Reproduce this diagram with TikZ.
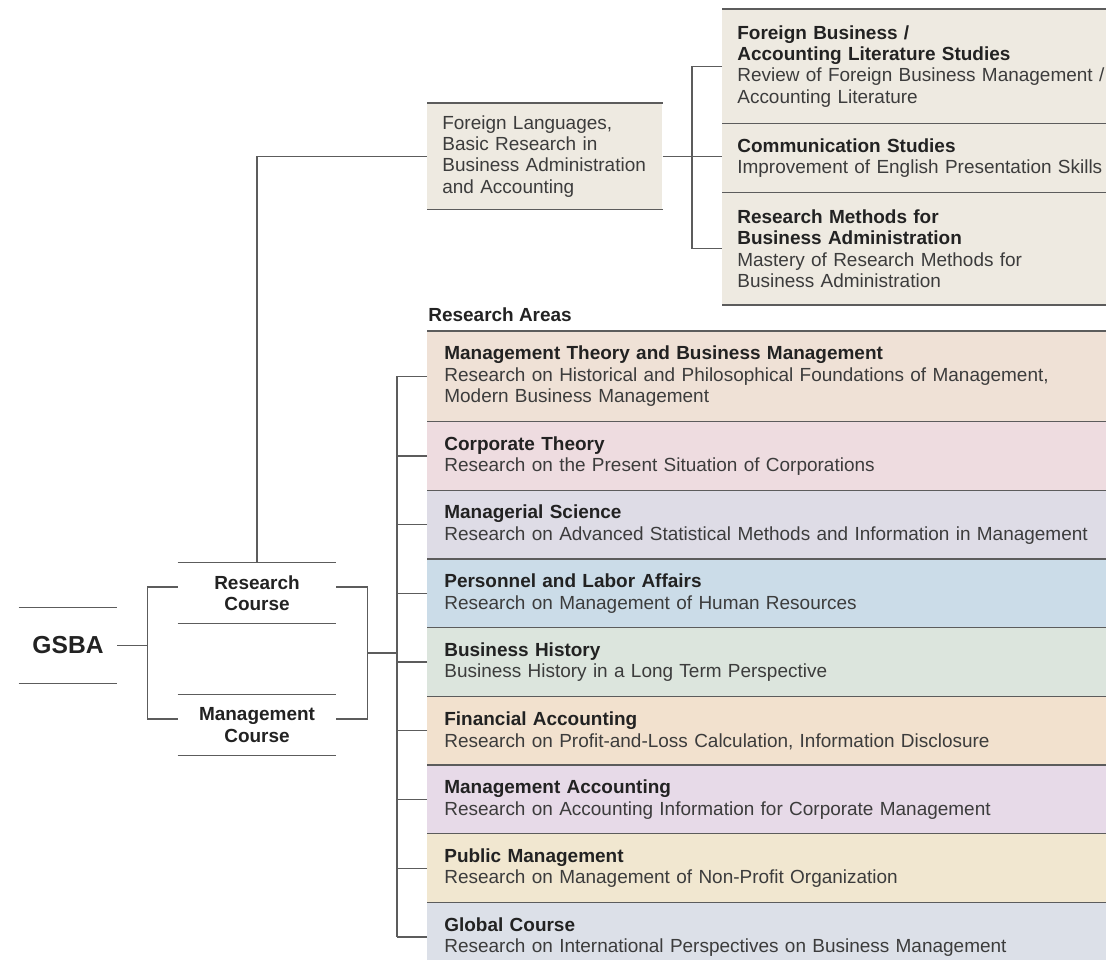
\documentclass[tikz,border=0pt]{standalone}
\usepackage{fontspec}
\setmainfont{Liberation Sans}
\usetikzlibrary{calc,positioning}

\definecolor{lineGray}{HTML}{5C5C5C}
\definecolor{titleInk}{HTML}{222222}
\definecolor{bodyInk}{HTML}{3C3C3C}
\definecolor{baseBeige}{HTML}{EEEAE1}
\definecolor{areaTheory}{HTML}{EFE1D6}
\definecolor{areaCorp}{HTML}{EEDCE0}
\definecolor{areaSci}{HTML}{DEDCE6}
\definecolor{areaLabor}{HTML}{CBDCE8}
\definecolor{areaHist}{HTML}{DCE5DD}
\definecolor{areaFin}{HTML}{F2E1CE}
\definecolor{areaMgmtAcc}{HTML}{E7DAE8}
\definecolor{areaPublic}{HTML}{F1E7D0}
\definecolor{areaGlobal}{HTML}{DCE0E8}

\newcommand{\ttl}[1]{{\bfseries\color{titleInk}#1}}

\tikzset{
	link/.style={draw=lineGray, line width=0.75pt},
	rules/.style={append after command={
		(\tikzlastnode.north west) edge[link] (\tikzlastnode.north east)
		(\tikzlastnode.south west) edge[link] (\tikzlastnode.south east)}},
	course/.style={rules, inner sep=0pt, align=center, font=\fontsize{10.8}{12.2}\selectfont\bfseries,
		text=titleInk, minimum width=3.16cm, minimum height=1.2cm},
	areabox/.style={rules, fill=#1, anchor=north west, align=left, text=bodyInk,
		inner ysep=0pt, inner xsep=0.34cm, text width=14cm, minimum height=1.36cm},
	subbox/.style={rules, fill=baseBeige, anchor=north west, align=left, text=bodyInk,
		inner ysep=0pt, inner xsep=0.3cm, text width=8cm},
}

\begin{document}
\begin{tikzpicture}[x=0.02cm, y=-0.02cm, font=\fontsize{10.8}{12.2}\selectfont]
		%%%%% START %%%%%
		\useasboundingbox (0,0) rectangle (1106,960);
		\clip (0,0) rectangle (1106,960);
		
		% left side
		\node[rules, inner sep=0pt, minimum width=1.96cm, minimum height=1.5cm, text=titleInk,
			font=\fontsize{14}{16}\selectfont\bfseries] (gsba) at (68,645.5) {GSBA};
		\node[course] (rc) at (257,593) {Research\\Course};
		\node[course] (mc) at (257,725) {Management\\Course};
		
		% basic research
		\node[subbox, text width=4.1cm, minimum height=2.12cm] (fl) at (427,103)
			{Foreign Languages,\\Basic Research in\\Business Administration\\and Accounting};
		\node[subbox, minimum height=2.28cm] (fb) at (722,9)
			{\ttl{Foreign Business /}\\\ttl{Accounting Literature Studies}\\Review of Foreign Business Management /\\Accounting Literature};
		\node[subbox, minimum height=1.36cm, below=0pt of fb.south west, anchor=north west] (cs)
			{\ttl{Communication Studies}\\Improvement of English Presentation Skills};
		\node[subbox, minimum height=2.24cm, below=0pt of cs.south west, anchor=north west] (rm)
			{\ttl{Research Methods for}\\\ttl{Business Administration}\\Mastery of Research Methods for\\Business Administration};
		
		% research areas
		\node[anchor=west, inner sep=0pt, font=\fontsize{10.8}{12.2}\selectfont\bfseries, text=titleInk] (ralabel) at (428,315) {Research Areas};
		\node[areabox=areaTheory, minimum height=1.8cm] (a1) at (427,331)
			{\ttl{Management Theory and Business Management}\\Research on Historical and Philosophical Foundations of Management,\\Modern Business Management};
		\node[areabox=areaCorp, below=0pt of a1.south west, anchor=north west] (a2)
			{\ttl{Corporate Theory}\\Research on the Present Situation of Corporations};
		\node[areabox=areaSci, below=0pt of a2.south west, anchor=north west] (a3)
			{\ttl{Managerial Science}\\Research on Advanced Statistical Methods and Information in Management};
		\node[areabox=areaLabor, below=0pt of a3.south west, anchor=north west] (a4)
			{\ttl{Personnel and Labor Affairs}\\Research on Management of Human Resources};
		\node[areabox=areaHist, below=0pt of a4.south west, anchor=north west] (a5)
			{\ttl{Business History}\\Business History in a Long Term Perspective};
		\node[areabox=areaFin, below=0pt of a5.south west, anchor=north west] (a6)
			{\ttl{Financial Accounting}\\Research on Profit-and-Loss Calculation, Information Disclosure};
		\node[areabox=areaMgmtAcc, below=0pt of a6.south west, anchor=north west] (a7)
			{\ttl{Management Accounting}\\Research on Accounting Information for Corporate Management};
		\node[areabox=areaPublic, below=0pt of a7.south west, anchor=north west] (a8)
			{\ttl{Public Management}\\Research on Management of Non-Profit Organization};
		\node[areabox=areaGlobal, below=0pt of a8.south west, anchor=north west] (a9)
			{\ttl{Global Course}\\Research on International Perspectives on Business Management};
		
		% connectors
		\path ([yshift=0.12cm]rc.west) ++(-30,0) coordinate (ltop);
		\path ([yshift=0.12cm]mc.west) ++(-30,0) coordinate (lbot);
		\draw[link] (gsba.east) -- (gsba.east -| ltop);
		\draw[link] ([yshift=0.12cm]rc.west) -- (ltop) -- (lbot) -- ([yshift=0.12cm]mc.west);
		
		\path ([yshift=0.12cm]rc.east) ++(31,0) coordinate (rtop);
		\path ([yshift=0.12cm]mc.east) ++(31,0) coordinate (rbot);
		\coordinate (rmid) at ($(rtop)!0.5!(rbot)$);
		\draw[link] ([yshift=0.12cm]rc.east) -- (rtop) -- (rbot) -- ([yshift=0.12cm]mc.east);
		
		\path (a1.west) ++(-30,0) coordinate (btop);
		\path (a9.west) ++(-30,0) coordinate (bbot);
		\draw[link] (btop) -- (bbot);
		\draw[link] (rmid) -- (rmid -| btop);
		\foreach \i in {1,...,9}
			\draw[link] (a\i.west) -- (a\i.west -| btop);
		
		\draw[link] (rc.north) |- (fl.west);
		\draw[link] (fl.east) -- (fl.east -| cs.west);
		\path (fb.west) ++(-30,0) coordinate (ftop);
		\path (rm.west) ++(-30,0) coordinate (fbot);
		\draw[link] (fb.west) -- (ftop) -- (fbot) -- (rm.west);
		
		%%%%% END %%%%%
\end{tikzpicture}
\end{document}
